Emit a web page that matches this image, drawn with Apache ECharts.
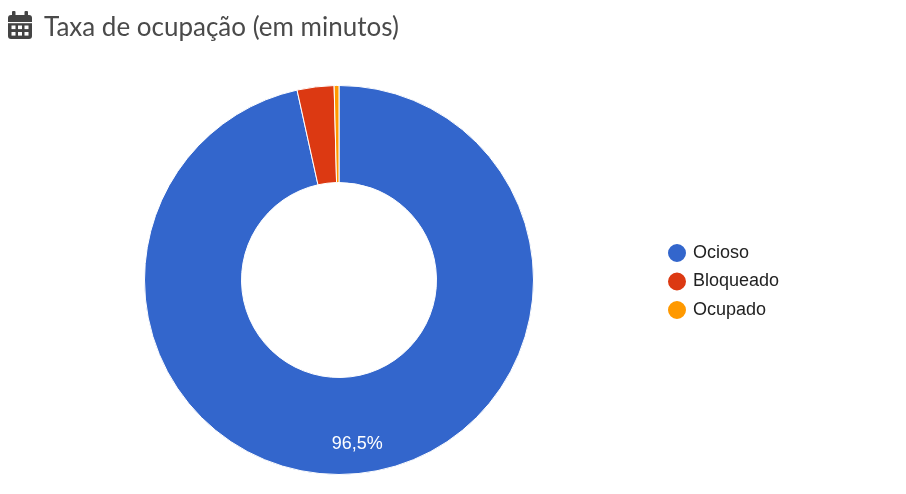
<!DOCTYPE html>
<html><head><meta charset="utf-8">
<style>html,body{margin:0;padding:0;background:#fff}#c{width:906px;height:494px}</style>
<script src="https://cdn.jsdelivr.net/npm/echarts@6/dist/echarts.min.js"></script>
</head><body><div id="c"></div>
<script>
const categories = ['Ocioso','Bloqueado','Ocupado'];
const values = [96.54,3.06,0.4];
const colors = ['#3366cc','#dc3912','#ff9900'];
const titleText = 'Taxa de ocupação (em minutos)';
const chart = echarts.init(document.getElementById('c'),null,{renderer:'canvas'});
const ink='#444444';
const box=(x,y,width,height,fill,r)=>({type:'rect',silent:true,shape:{x,y,width,height,r:r||0},style:{fill}});
const cells=[];
[25.5,32].forEach(y=>[11.5,18,24.5].forEach(x=>cells.push(box(x,y,4,3.6,'#fff'))));
chart.setOption({
 animation:false,
 backgroundColor:'#fff',
 color:colors,
 title:{text:titleText,left:39,top:10,textStyle:{fontFamily:'Lato',fontWeight:'normal',fontSize:26,color:'#4a4a4a'}},
 legend:{orient:'vertical',left:661,top:237,itemWidth:20,itemHeight:20,itemGap:6.5,icon:'circle',data:categories,
   textStyle:{fontFamily:'Liberation Sans',fontSize:18,color:'#222222',padding:[0,0,0,1]}},
 series:[{type:'pie',center:[339,280],radius:[97.5,194.5],startAngle:90,clockwise:true,minAngle:0,avoidLabelOverlap:false,
   itemStyle:{borderColor:'#fff',borderWidth:1},
   label:{show:true,position:'inside',fontFamily:'Liberation Sans',fontSize:18,color:'#fff',
     formatter:p=>p.value>=5?p.value.toFixed(1).replace('.',',')+'%':''},
   labelLayout:{dx:2,dy:16},
   labelLine:{show:false},
   emphasis:{disabled:true},
   data:categories.map((n,i)=>({name:n,value:values[i]}))}],
 graphic:[
   box(8,15,24,24,ink,3),
   box(12,11,3.5,6,ink,1),
   box(24.5,11,3.5,6,ink,1),
   box(8,22,24,1.2,'#fff'),
   ...cells
 ]
});
</script></body></html>
